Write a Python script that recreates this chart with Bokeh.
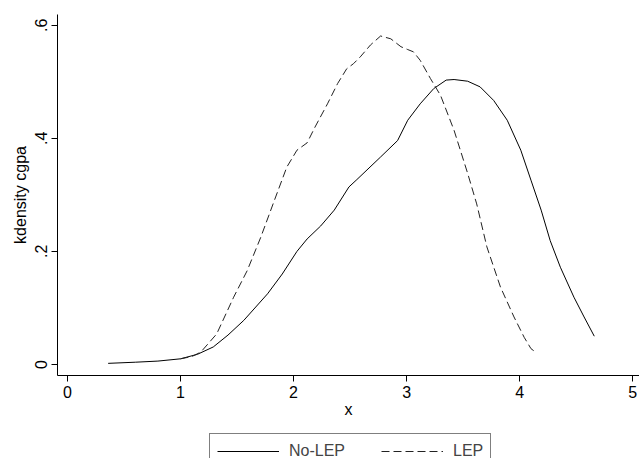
from bokeh.plotting import figure
from bokeh.models import Range1d, Legend, LegendItem, FixedTicker
from bokeh.layouts import column
from bokeh.embed import file_html
from bokeh.resources import INLINE

# No-LEP density (solid)
nolep_x = [0.36, 0.6, 0.8, 1.0, 1.15, 1.29, 1.42, 1.56, 1.77, 1.9, 2.03, 2.12, 2.24, 2.36,
           2.49, 2.56, 2.77, 2.92, 3.01, 3.12, 3.24, 3.35, 3.42, 3.54, 3.65, 3.77, 3.89,
           4.01, 4.10, 4.19, 4.27, 4.36, 4.48, 4.57, 4.66]
nolep_y = [0.002, 0.004, 0.006, 0.010, 0.018, 0.031, 0.052, 0.078, 0.125, 0.160, 0.200, 0.222,
           0.245, 0.273, 0.314, 0.327, 0.367, 0.396, 0.432, 0.461, 0.488, 0.503, 0.504, 0.501,
           0.491, 0.467, 0.432, 0.379, 0.326, 0.273, 0.219, 0.172, 0.119, 0.084, 0.050]

# LEP density (dashed)
lep_x = [1.0, 1.1, 1.18, 1.32, 1.47, 1.59, 1.71, 1.83, 1.94, 2.03, 2.12, 2.19, 2.30, 2.39,
         2.47, 2.53, 2.59, 2.68, 2.77, 2.86, 2.95, 3.01, 3.06, 3.12, 3.21, 3.30, 3.42, 3.54,
         3.62, 3.71, 3.83, 3.95, 4.04, 4.10, 4.14]
lep_y = [0.010, 0.014, 0.022, 0.054, 0.119, 0.166, 0.225, 0.290, 0.349, 0.379, 0.392, 0.420,
         0.461, 0.497, 0.523, 0.532, 0.544, 0.565, 0.581, 0.576, 0.562, 0.557, 0.553, 0.538,
         0.506, 0.476, 0.414, 0.338, 0.284, 0.208, 0.137, 0.084, 0.048, 0.028, 0.022]

x_ticks = [0, 1, 2, 3, 4, 5]
y_ticks = [0, 0.2, 0.4, 0.6]
y_tick_labels = ["0", ".2", ".4", ".6"]
series_names = ["No-LEP", "LEP"]

FONT = "Liberation Sans"
SOLID = dict(line_color="black", line_width=1)
DASHED = dict(line_color="#222222", line_width=1, line_dash="8 4")

p = figure(width=639, height=428, output_backend="svg", toolbar_location=None,
           x_range=Range1d(-0.088, 5.06), y_range=Range1d(-0.0195, 0.619),
           min_border_left=57, min_border_right=0, min_border_top=14, min_border_bottom=53)
p.outline_line_color = None
p.xgrid.visible = False
p.ygrid.visible = False
p.background_fill_color = "white"
p.border_fill_color = "white"

p.line(nolep_x, nolep_y, **SOLID)
p.line(lep_x, lep_y, **DASHED)

for ax in (p.xaxis[0], p.yaxis[0]):
    ax.axis_line_color = "black"
    ax.major_tick_line_color = "black"
    ax.major_tick_out = 6
    ax.major_tick_in = 0
    ax.minor_tick_out = 0
    ax.minor_tick_in = 0
    ax.major_label_text_font = FONT
    ax.major_label_text_font_size = "16px"
    ax.major_label_text_color = "black"
    ax.axis_label_text_font = FONT
    ax.axis_label_text_font_size = "16px"
    ax.axis_label_text_font_style = "normal"
    ax.axis_label_text_color = "black"
    ax.major_label_standoff = 4

p.xaxis[0].ticker = FixedTicker(ticks=x_ticks)
p.xaxis[0].axis_label = "x"
p.xaxis[0].axis_label_standoff = 0

p.yaxis[0].ticker = FixedTicker(ticks=y_ticks)
p.yaxis[0].major_label_overrides = {t: l for t, l in zip(y_ticks, y_tick_labels)}
p.yaxis[0].major_label_orientation = "vertical"
p.yaxis[0].axis_label = "kdensity cgpa"
p.yaxis[0].axis_label_standoff = 4

# Legend strip below the plot (series drawn outside its visible range; only the key shows)
pl = figure(width=639, height=30, output_backend="svg", toolbar_location=None,
            x_range=Range1d(100, 101), y_range=Range1d(100, 101),
            x_axis_location=None, y_axis_location=None,
            min_border_left=0, min_border_right=0, min_border_top=0, min_border_bottom=0)
pl.outline_line_color = None
pl.xgrid.visible = False
pl.ygrid.visible = False
pl.border_fill_color = "white"
k1 = pl.line(nolep_x, nolep_y, **SOLID)
k2 = pl.line(lep_x, lep_y, **DASHED)

legend = Legend(items=[LegendItem(label=series_names[0], renderers=[k1]),
                       LegendItem(label=series_names[1], renderers=[k2])],
                orientation="horizontal", location=(152, -11),
                label_text_font=FONT, label_text_font_size="16px",
                glyph_width=62, glyph_height=20, label_standoff=10, spacing=36,
                padding=7, margin=0, border_line_color="black", border_line_width=1,
                background_fill_color="white", background_fill_alpha=1.0)
pl.add_layout(legend, "center")

layout = column(p, pl, spacing=0)
open("out.html", "w").write(file_html(layout, INLINE))
